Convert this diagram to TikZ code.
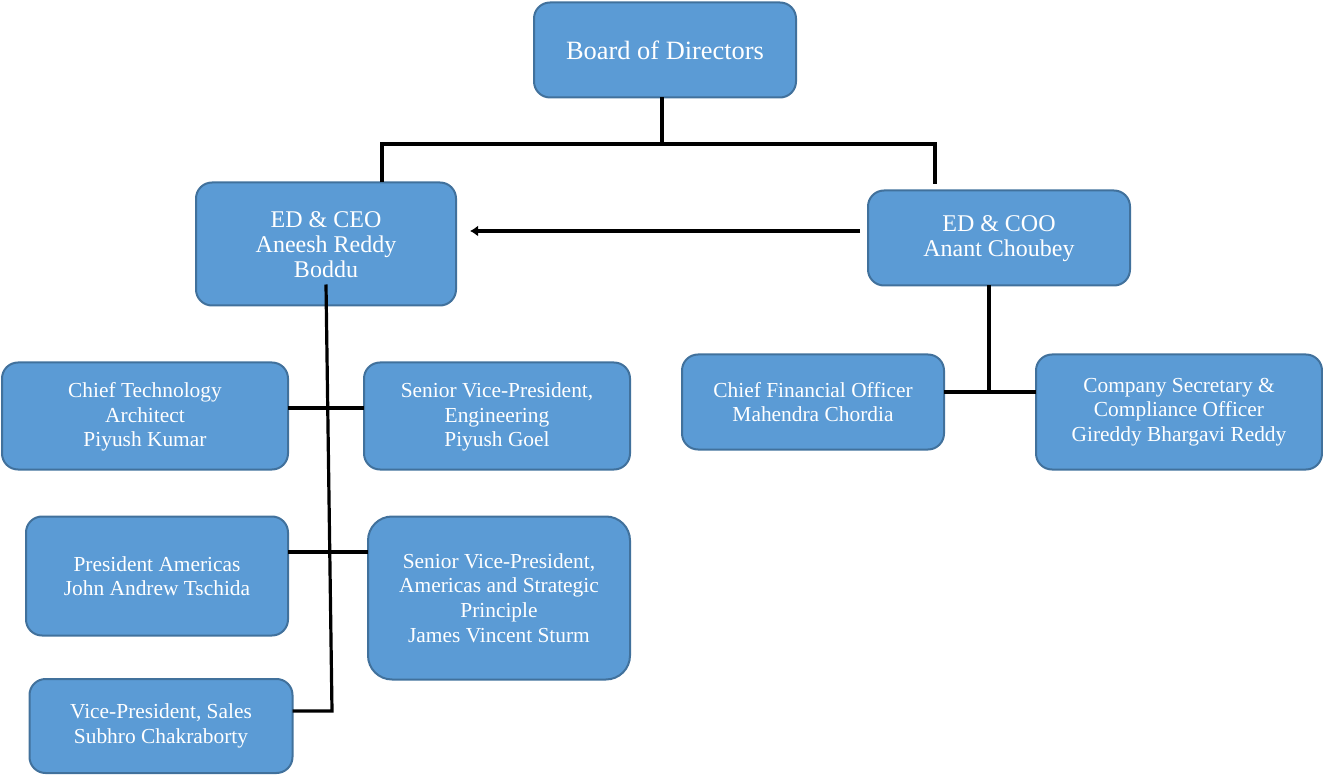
\documentclass[tikz,border=0pt]{standalone}
\usepackage{fontspec}
\setmainfont{Liberation Serif}
\usetikzlibrary{positioning,arrows.meta}
\definecolor{boxfill}{HTML}{5B9BD5}
\definecolor{boxline}{HTML}{41719C}
\tikzset{orgbox/.style={draw=boxline,fill=boxfill,line width=1pt,rounded corners=8pt,
    text=white,align=center,inner sep=0pt,outer sep=0pt,font=\fontsize{10.7}{12.3}\selectfont},
  bigtext/.style={font=\fontsize{12}{12.5}\selectfont},
  link/.style={line width=1.6pt}
}

\begin{document}
\begin{tikzpicture}[x=0.5pt,y=-0.5pt]
  \useasboundingbox (0,0) rectangle (1323,775);

  % Top level
    \node[orgbox, font=\fontsize{13.2}{15}\selectfont, minimum width=131pt, minimum height=47.5pt] (board) at (665,50) {Board of Directors};
    \node[orgbox, bigtext, minimum width=130pt, minimum height=61.5pt] (ceo) at (326,244) {\strut ED \& CEO\\Aneesh Reddy\\Boddu};
    \node[orgbox, bigtext, minimum width=131pt, minimum height=47.5pt] (coo) at (999,238) {\strut ED \& COO\\Anant Choubey};

    % Reporting to the CEO
    \node[orgbox, minimum width=143pt, minimum height=53.5pt] (cta) at (145,416) {\strut Chief Technology\\Architect\\Piyush Kumar};
    \node[orgbox, minimum width=133pt, minimum height=53.5pt, right = 38pt of cta] (svpeng) {\strut Senior Vice-President,\\Engineering\\Piyush Goel};
    \node[orgbox, minimum width=131pt, minimum height=59.5pt] (presam) at (157,576) {President Americas\\John Andrew Tschida};
    \node[orgbox, rounded corners=12pt, minimum width=131pt, minimum height=81.5pt] (svpam) at (499,598) {Senior Vice-President,\\Americas and Strategic\\Principle\\James Vincent Sturm};
    \node[orgbox, minimum width=131.5pt, minimum height=47pt] (vps) at (161,726) {Vice-President, Sales\\Subhro Chakraborty};

    % Reporting to the COO
    \node[orgbox, minimum width=131pt, minimum height=47.5pt] (cfo) at (813,402) {Chief Financial Officer\\Mahendra Chordia};
    \node[orgbox, minimum width=143pt, minimum height=57.5pt] (cs) at (1179,412) {Company Secretary \&\\Compliance Officer\\Gireddy Bhargavi Reddy};

    % Board to the two EDs
    \coordinate (busl) at (382,144);
    \coordinate (busr) at (935,144);
    \draw[link] ([xshift=-1.5pt]board.south) -- ([xshift=-1.5pt]board.south |- busl);
    \draw[link, shorten >=3pt] (ceo.north -| busl) -- (busl) -- (busr) -- (busr |- coo.north);

    % COO to CEO
    \draw[link, line width=2.2pt, -{Latex[length=4pt,width=5.5pt]}, shorten <=4pt, shorten >=7pt]
      ([yshift=3.5pt]coo.west) -- ([yshift=3.5pt]coo.west -| ceo.east);

    % CEO trunk and branches
    \coordinate (ceobase) at (332,711);
    \draw[link] ([yshift=10.5pt]ceo.south) -- (ceobase) -- (ceobase -| vps.east);
    \draw[link] ([yshift=4pt]cta.east) -- ([yshift=4pt]svpeng.west);
    \draw[link] ([yshift=12pt]presam.east) -- ([yshift=12pt]presam.east -| svpam.west);

    % COO trunk and branches
    \coordinate (cfobar) at ([yshift=5pt]cfo.east);
    \draw[link] ([xshift=-5pt]coo.south) -- ([xshift=-5pt]coo.south |- cfobar);
    \draw[link] (cfobar) -- (cfobar -| cs.west);

\end{tikzpicture}
\end{document}
